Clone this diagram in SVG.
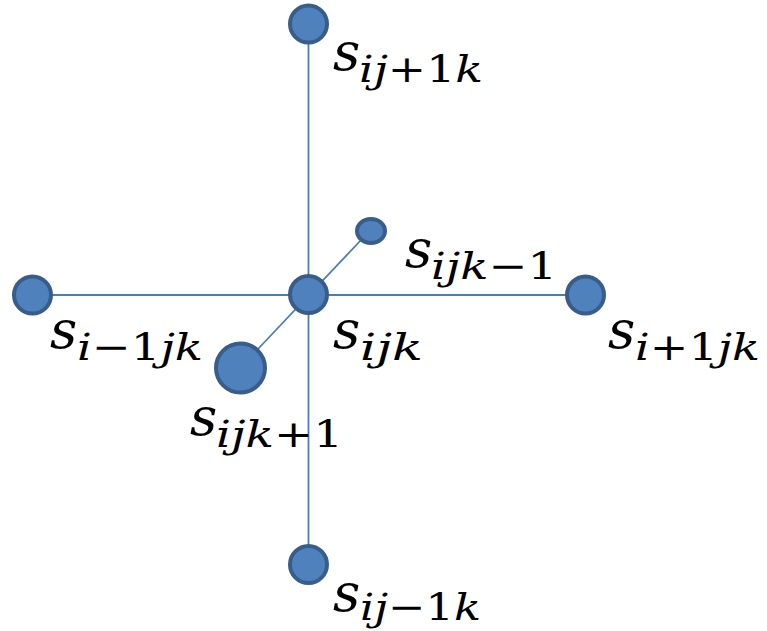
<svg xmlns="http://www.w3.org/2000/svg" width="767" height="631" viewBox="0 0 767 631">
<style>
.n{fill:#4F81BD;stroke:#385D8A;stroke-width:4}
.c{stroke:#4A7EBB;stroke-width:1.8;fill:none}
.s{font-family:"DejaVu Serif","Liberation Serif",serif;font-style:italic;font-size:53px;fill:#000}
.b{font-family:"DejaVu Serif","Liberation Serif",serif;font-style:italic;font-size:38px;fill:#000}
.u{font-style:normal}
</style>
<rect width="767" height="631" fill="#fff"/>
<g id="connectors">
<line class="c" x1="308.5" y1="40" x2="308.5" y2="548"/>
<line class="c" x1="50" y1="295" x2="568" y2="295"/>
<line class="c" x1="258" y1="349" x2="362" y2="239"/>
</g>
<g id="n_top"><circle class="n" cx="308.5" cy="24" r="18.5"/></g>
<g id="n_center"><circle class="n" cx="308.5" cy="294.5" r="18.5"/></g>
<g id="n_small"><ellipse class="n" cx="371" cy="231" rx="14" ry="12"/></g>
<g id="n_big"><circle class="n" cx="240.5" cy="368" r="24.5"/></g>
<g id="n_left"><circle class="n" cx="32.5" cy="295" r="18.5"/></g>
<g id="n_right"><circle class="n" cx="585.5" cy="295" r="18.5"/></g>
<g id="n_bottom"><circle class="n" cx="308.5" cy="564.5" r="18.5"/></g>
<g id="labels">
<text class="s" x="333" y="70">s</text>
<text class="b" x="359" y="82" textLength="124" lengthAdjust="spacingAndGlyphs">ij<tspan class="u">+1</tspan>k</text>
<text class="s" x="405" y="267">s</text>
<text class="b" x="431" y="279" textLength="126" lengthAdjust="spacingAndGlyphs">ijk<tspan class="u">−1</tspan></text>
<text class="s" x="333" y="348">s</text>
<text class="b" x="360" y="360" textLength="63" lengthAdjust="spacingAndGlyphs">ijk</text>
<text class="s" x="50" y="348">s</text>
<text class="b" x="77" y="360" textLength="126" lengthAdjust="spacingAndGlyphs">i<tspan class="u">−1</tspan>jk</text>
<text class="s" x="608" y="348">s</text>
<text class="b" x="635" y="360" textLength="125" lengthAdjust="spacingAndGlyphs">i<tspan class="u">+1</tspan>jk</text>
<text class="s" x="190" y="435">s</text>
<text class="b" x="216" y="447" textLength="127" lengthAdjust="spacingAndGlyphs">ijk<tspan class="u">+1</tspan></text>
<text class="s" x="333" y="611">s</text>
<text class="b" x="360" y="620" textLength="121" lengthAdjust="spacingAndGlyphs">ij<tspan class="u">−1</tspan>k</text>
</g>
</svg>
